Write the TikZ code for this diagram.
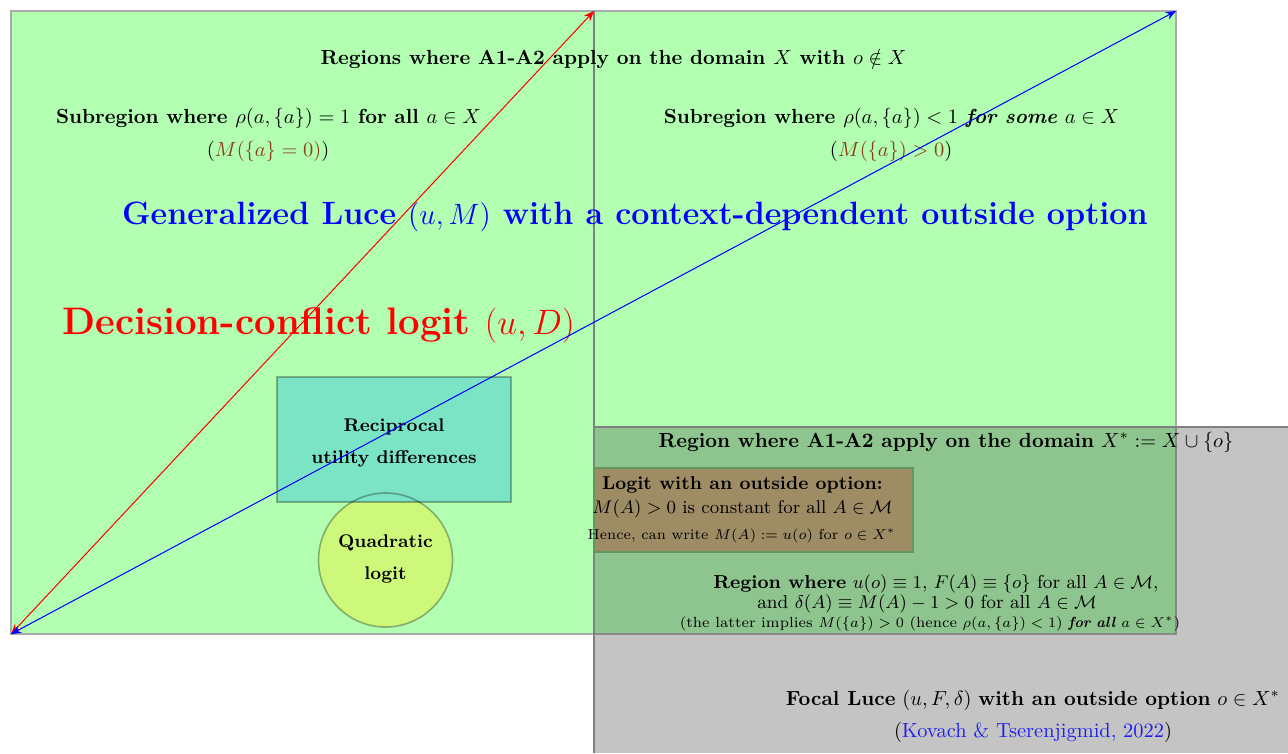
\documentclass[tikz,border=0pt]{standalone}
\usepackage{amsmath,amssymb}
\usetikzlibrary{arrows.meta}
\definecolor{lgreen}{rgb}{0.70,1,0.70}
\definecolor{boxteal}{RGB}{122,228,196}
\definecolor{circyel}{RGB}{205,248,122}
\definecolor{boxbrown}{RGB}{158,140,100}
\definecolor{mbrown}{RGB}{140,62,22}
\definecolor{edgegray}{RGB}{170,170,170}
\definecolor{midgray}{RGB}{128,128,128}
\definecolor{shadegray}{RGB}{62,62,62}
\definecolor{citeblue}{RGB}{30,30,240}
\tikzset{
  txt/.style={inner sep=0pt, anchor=center},
  bigarrow/.style={line width=0.5pt, {Stealth[length=5pt,width=4pt]}-{Stealth[length=5pt,width=4pt]}},
  softedge/.style={draw=black, draw opacity=0.3, line width=0.8pt},
}
\begin{document}
\begin{tikzpicture}[x=0.49pt,y=-0.49pt]
\useasboundingbox (0,0) rectangle (1288,753);
\fill[white] (0,0) rectangle (1288,753);
% main region
\fill[lgreen] (11,11) rectangle (1176,634);
\draw[edgegray, line width=0.9pt] (11,11) rectangle (1176,634);
\draw[midgray, line width=0.9pt] (594,11) -- (594,634);
\coordinate (BL) at (11,634);
\coordinate (TM) at (594,11);
\coordinate (TR) at (1176,11);
% shapes
\node[circle, fill=circyel, minimum size={134*0.49pt}, inner sep=0pt] (quadc) at (385.5,560) {};
\node[rectangle, fill=boxteal, softedge, minimum width={234*0.49pt}, minimum height={125*0.49pt}, inner sep=0pt] (recip) at (394,439.5) {};
\draw[softedge] (quadc.center) circle[radius={67*0.49pt}];
% texts
\node[txt] (t1) at (613.5,59) {\textbf{Regions where A1-A2 apply on the domain $X$ with $o\notin X$}};
\node[txt] (sl1) at (268.5,118) {\textbf{Subregion where $\rho(a,\{a\})=1$ for all $a\in X$}};
\node[txt] (sl2) at (268,151) {(\textcolor{mbrown}{$M(\{a\}=0)$})};
\node[txt] (sr1) at (891.5,118) {\textbf{Subregion where $\rho(a,\{a\})<1$ \textit{for some} $a\in X$}};
\node[txt] (sr2) at (891,151) {(\textcolor{mbrown}{$M(\{a\})>0$})};
\node[txt, text=blue, font=\fontsize{15.8}{19}\selectfont] (gl) at (635,217) {\textbf{Generalized Luce $(u,M)$ with a context-dependent outside option}};
\node[txt, text=red, font=\fontsize{18.8}{22}\selectfont] (dc) at (318.5,325) {\textbf{Decision-conflict logit $(u,D)$}};
\node[txt, font=\small] (rc1) at (394,427) {\textbf{Reciprocal}};
\node[txt, font=\small] (rc2) at (394,459) {\textbf{utility differences}};
\node[txt, font=\small] (q1) at (385.5,543) {\textbf{Quadratic}};
\node[txt, font=\small] (q2) at (385.5,575) {\textbf{logit}};
% arrows
\draw[bigarrow, red] (BL) -- (TM);
\draw[bigarrow, blue] (BL) -- (TR);
% outside-option region
\fill[shadegray, fill opacity=0.3] (594,427) rectangle (1288,753);
\draw[midgray, line width=0.9pt] (1288,427) -- (594,427) -- (594,753);
\node[rectangle, fill=boxbrown, draw={rgb,255:red,100;green,150;blue,100}, line width=0.9pt, minimum width={319*0.49pt}, minimum height={84*0.49pt}, inner sep=0pt] (logitbox) at (753.5,510) {};
\node[txt] (x1) at (946,442) {\textbf{Region where A1-A2 apply on the domain} $X^*:=X\cup\{o\}$};
\node[txt, font=\fontsize{9.1}{11}\selectfont] (lb1) at (742.5,485) {\textbf{Logit with an outside option:}};
\node[txt, font=\small] (lb2) at (742.5,509) {$M(A)>0$ is constant for all $A\in\mathcal{M}$};
\node[txt, font=\fontsize{7.1}{8.5}\selectfont] (lb3) at (741.5,536) {Hence, can write $M(A):=u(o)$ for $o\in X^*$};
\node[txt, font=\fontsize{9.2}{11}\selectfont] (r1) at (936,584) {\textbf{Region where} $u(o)\equiv 1$, $F(A)\equiv\{o\}$ for all $A\in\mathcal{M}$,};
\node[txt, font=\fontsize{9.2}{11}\selectfont] (r2) at (927,604) {and $\delta(A)\equiv M(A)-1>0$ for all $A\in\mathcal{M}$};
\node[txt, font=\fontsize{7.2}{9}\selectfont] (r3) at (930,624) {(the latter implies $M(\{a\})>0$ (hence $\rho(a,\{a\})<1$) \textbf{\textit{for all}} $a\in X^*$)};
\node[txt] (f1) at (1033,700) {\textbf{Focal Luce} $(u,F,\delta)$ \textbf{with an outside option} $o\in X^*$};
\node[txt] (f2) at (1033,732) {(\textcolor{citeblue}{Kovach \& Tserenjigmid, 2022})};
\end{tikzpicture}
\end{document}
